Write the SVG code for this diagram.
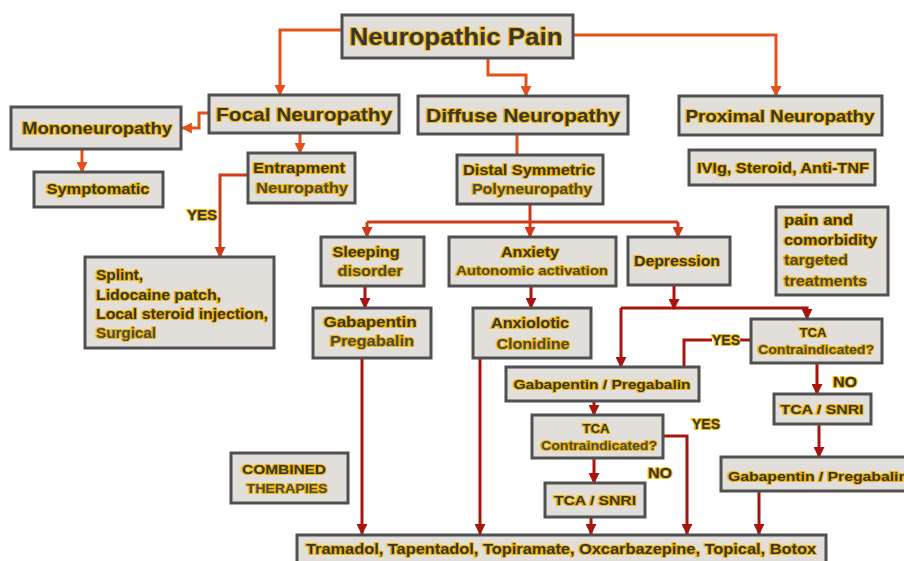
<svg xmlns="http://www.w3.org/2000/svg" width="904" height="561" viewBox="0 0 904 561">
<defs>
<style>
.box{fill:#E2DFDB;stroke:#505050;stroke-width:3}
.t{font-family:"Liberation Sans",Arial,sans-serif;font-weight:bold;fill:#363636;stroke:#F2B705;stroke-width:2.2;paint-order:stroke;stroke-linejoin:round;text-anchor:middle}
.t2{fill:#4a4a4a}
.l{text-anchor:start}
.c{fill:none;stroke-width:3}
.o{stroke:#E4511B}
.r{stroke:#CF3A18}
.d{stroke:#A8150F}
</style>
<marker id="ao" viewBox="0 0 10 10" refX="9" refY="5" markerWidth="11" markerHeight="11" markerUnits="userSpaceOnUse" orient="auto"><path d="M0,0L10,5L0,10z" fill="#E4511B"/></marker>
<marker id="ar" viewBox="0 0 10 10" refX="9" refY="5" markerWidth="11" markerHeight="11" markerUnits="userSpaceOnUse" orient="auto"><path d="M0,0L10,5L0,10z" fill="#CF3A18"/></marker>
<marker id="ad" viewBox="0 0 10 10" refX="9" refY="5" markerWidth="11" markerHeight="11" markerUnits="userSpaceOnUse" orient="auto"><path d="M0,0L10,5L0,10z" fill="#A8150F"/></marker>
</defs>
<rect width="904" height="561" fill="#fff"/>

<g id="connectors">
<path class="c o" d="M342,30H280V95" marker-end="url(#ao)"/>
<path class="c o" d="M488,58V75H526V96" marker-end="url(#ao)"/>
<path class="c o" d="M573,35H776V96" marker-end="url(#ao)"/>
<path class="c o" d="M209,113H199V128H182" marker-end="url(#ao)"/>
<path class="c o" d="M300,133V153" marker-end="url(#ao)"/>
<path class="c o" d="M82,149V172" marker-end="url(#ao)"/>
<path class="c r" d="M248,175H220V257" marker-end="url(#ar)"/>
<path class="c o" d="M517,134V155"/>
<path class="c r" d="M530,204V222M367,222H678"/>
<path class="c r" d="M367,222V237" marker-end="url(#ar)"/>
<path class="c r" d="M530,222V237" marker-end="url(#ar)"/>
<path class="c r" d="M678,222V237" marker-end="url(#ar)"/>
<path class="c d" d="M365,286V308" marker-end="url(#ad)"/>
<path class="c d" d="M362,358V534" marker-end="url(#ad)"/>
<path class="c d" d="M531,286V308" marker-end="url(#ad)"/>
<path class="c d" d="M480,358V534" marker-end="url(#ad)"/>
<path class="c d" d="M674,285V309" marker-end="url(#ad)"/>
<path class="c d" d="M621,308V367" marker-end="url(#ad)"/>
<path class="c d" d="M621,308H807V319" marker-end="url(#ad)"/>
<path class="c d" d="M751,340H740M712,340H684V367"/>
<path class="c d" d="M817,363V394" marker-end="url(#ad)"/>
<path class="c d" d="M819,424V457" marker-end="url(#ad)"/>
<path class="c d" d="M759,491V534" marker-end="url(#ad)"/>
<path class="c d" d="M594,401V415" marker-end="url(#ad)"/>
<path class="c d" d="M594,458V483" marker-end="url(#ad)"/>
<path class="c d" d="M663,436H687V534" marker-end="url(#ad)"/>
<path class="c d" d="M591,517V534" marker-end="url(#ad)"/>
<text class="t" x="202" y="220" font-size="14" textLength="30" lengthAdjust="spacingAndGlyphs">YES</text>
<text class="t" x="726" y="345" font-size="14" textLength="28" lengthAdjust="spacingAndGlyphs">YES</text>
<text class="t" x="706" y="429" font-size="14" textLength="28" lengthAdjust="spacingAndGlyphs">YES</text>
<text class="t" x="845" y="387" font-size="14" textLength="24" lengthAdjust="spacingAndGlyphs">NO</text>
<text class="t" x="660" y="478" font-size="14" textLength="24" lengthAdjust="spacingAndGlyphs">NO</text>
</g>

<g id="n-pain"><rect class="box" x="342" y="15" width="231" height="43"/><text class="t" x="456" y="45" font-size="24" textLength="213" lengthAdjust="spacingAndGlyphs">Neuropathic Pain</text></g>
<g id="n-focal"><rect class="box" x="209" y="95" width="190" height="38"/><text class="t" x="304" y="121" font-size="19" textLength="176" lengthAdjust="spacingAndGlyphs">Focal Neuropathy</text></g>
<g id="n-mono"><rect class="box" x="11" y="107" width="170" height="42"/><text class="t" x="97" y="134" font-size="16" textLength="150" lengthAdjust="spacingAndGlyphs">Mononeuropathy</text></g>
<g id="n-symp"><rect class="box" x="34" y="172" width="129" height="35"/><text class="t" x="98" y="194" font-size="14" textLength="103" lengthAdjust="spacingAndGlyphs">Symptomatic</text></g>
<g id="n-entrap"><rect class="box" x="248" y="153" width="107" height="50"/><text class="t" x="299" y="173" font-size="14" textLength="92" lengthAdjust="spacingAndGlyphs">Entrapment</text><text class="t t2" x="302" y="193" font-size="14" textLength="92" lengthAdjust="spacingAndGlyphs">Neuropathy</text></g>
<g id="n-diffuse"><rect class="box" x="418" y="96" width="210" height="38"/><text class="t" x="523" y="122" font-size="19" textLength="194" lengthAdjust="spacingAndGlyphs">Diffuse Neuropathy</text></g>
<g id="n-proximal"><rect class="box" x="679" y="96" width="203" height="39"/><text class="t" x="780" y="122" font-size="17" textLength="189" lengthAdjust="spacingAndGlyphs">Proximal Neuropathy</text></g>
<g id="n-ivig"><rect class="box" x="689" y="150" width="186" height="35"/><text class="t" x="783" y="173" font-size="14" textLength="172" lengthAdjust="spacingAndGlyphs">IVIg, Steroid, Anti-TNF</text></g>
<g id="n-distal"><rect class="box" x="457" y="155" width="146" height="49"/><text class="t" x="529" y="175" font-size="14" textLength="132" lengthAdjust="spacingAndGlyphs">Distal Symmetric</text><text class="t t2" x="532" y="194" font-size="14" textLength="120" lengthAdjust="spacingAndGlyphs">Polyneuropathy</text></g>
<g id="n-sleep"><rect class="box" x="321" y="237" width="103" height="49"/><text class="t" x="366" y="257" font-size="14" textLength="67" lengthAdjust="spacingAndGlyphs">Sleeping</text><text class="t t2" x="370" y="276" font-size="14" textLength="65" lengthAdjust="spacingAndGlyphs">disorder</text></g>
<g id="n-anxiety"><rect class="box" x="449" y="237" width="167" height="49"/><text class="t" x="530" y="257" font-size="14" textLength="58" lengthAdjust="spacingAndGlyphs">Anxiety</text><text class="t t2" x="532" y="275" font-size="13" textLength="152" lengthAdjust="spacingAndGlyphs">Autonomic activation</text></g>
<g id="n-depr"><rect class="box" x="628" y="237" width="102" height="48"/><text class="t" x="677" y="266" font-size="14" textLength="86" lengthAdjust="spacingAndGlyphs">Depression</text></g>
<g id="n-comorb"><rect class="box" x="776" y="207" width="112" height="88"/><text class="t l" x="784" y="225" font-size="14" textLength="69" lengthAdjust="spacingAndGlyphs">pain and</text><text class="t l" x="784" y="245" font-size="14" textLength="93" lengthAdjust="spacingAndGlyphs">comorbidity</text><text class="t l t2" x="784" y="265" font-size="14" textLength="64" lengthAdjust="spacingAndGlyphs">targeted</text><text class="t l t2" x="784" y="286" font-size="14" textLength="83" lengthAdjust="spacingAndGlyphs">treatments</text></g>
<g id="n-splint"><rect class="box" x="85" y="257" width="189" height="91"/><text class="t l" x="96" y="280" font-size="14" textLength="47" lengthAdjust="spacingAndGlyphs">Splint,</text><text class="t l" x="96" y="300" font-size="14" textLength="125" lengthAdjust="spacingAndGlyphs">Lidocaine patch,</text><text class="t l" x="96" y="319" font-size="14" textLength="172" lengthAdjust="spacingAndGlyphs">Local steroid injection,</text><text class="t l t2" x="96" y="338" font-size="14" textLength="60" lengthAdjust="spacingAndGlyphs">Surgical</text></g>
<g id="n-gaba1"><rect class="box" x="313" y="308" width="118" height="50"/><text class="t" x="370" y="327" font-size="14" textLength="93" lengthAdjust="spacingAndGlyphs">Gabapentin</text><text class="t t2" x="372" y="346" font-size="14" textLength="84" lengthAdjust="spacingAndGlyphs">Pregabalin</text></g>
<g id="n-anxio"><rect class="box" x="473" y="308" width="118" height="50"/><text class="t" x="530" y="328" font-size="14" textLength="78" lengthAdjust="spacingAndGlyphs">Anxiolotic</text><text class="t t2" x="533" y="349" font-size="14" textLength="73" lengthAdjust="spacingAndGlyphs">Clonidine</text></g>
<g id="n-gaba2"><rect class="box" x="506" y="367" width="193" height="34"/><text class="t" x="602" y="389" font-size="13" textLength="177" lengthAdjust="spacingAndGlyphs">Gabapentin / Pregabalin</text></g>
<g id="n-tca1"><rect class="box" x="751" y="319" width="131" height="44"/><text class="t" x="813" y="337" font-size="12" textLength="27" lengthAdjust="spacingAndGlyphs">TCA</text><text class="t t2" x="816" y="354" font-size="12" textLength="116" lengthAdjust="spacingAndGlyphs">Contraindicated?</text></g>
<g id="n-snri1"><rect class="box" x="774" y="394" width="97" height="30"/><text class="t" x="822" y="414" font-size="13" textLength="83" lengthAdjust="spacingAndGlyphs">TCA / SNRI</text></g>
<g id="n-gaba3"><rect class="box" x="721" y="457" width="190" height="34"/><text class="t l" x="728" y="481" font-size="13" textLength="180" lengthAdjust="spacingAndGlyphs">Gabapentin / Pregabalin</text></g>
<g id="n-tca2"><rect class="box" x="532" y="415" width="131" height="43"/><text class="t" x="596" y="433" font-size="12" textLength="27" lengthAdjust="spacingAndGlyphs">TCA</text><text class="t t2" x="599" y="450" font-size="12" textLength="116" lengthAdjust="spacingAndGlyphs">Contraindicated?</text></g>
<g id="n-snri2"><rect class="box" x="545" y="483" width="100" height="34"/><text class="t" x="595" y="505" font-size="13" textLength="82" lengthAdjust="spacingAndGlyphs">TCA / SNRI</text></g>
<g id="n-combined"><rect class="box" x="231" y="453" width="117" height="50"/><text class="t" x="284" y="474" font-size="13" textLength="84" lengthAdjust="spacingAndGlyphs">COMBINED</text><text class="t t2" x="287" y="493" font-size="13" textLength="81" lengthAdjust="spacingAndGlyphs">THERAPIES</text></g>
<g id="n-bottom"><rect class="box" x="297" y="535" width="529" height="34"/><text class="t" x="561" y="554" font-size="14" textLength="510" lengthAdjust="spacingAndGlyphs">Tramadol, Tapentadol, Topiramate, Oxcarbazepine, Topical, Botox</text></g>
</svg>
